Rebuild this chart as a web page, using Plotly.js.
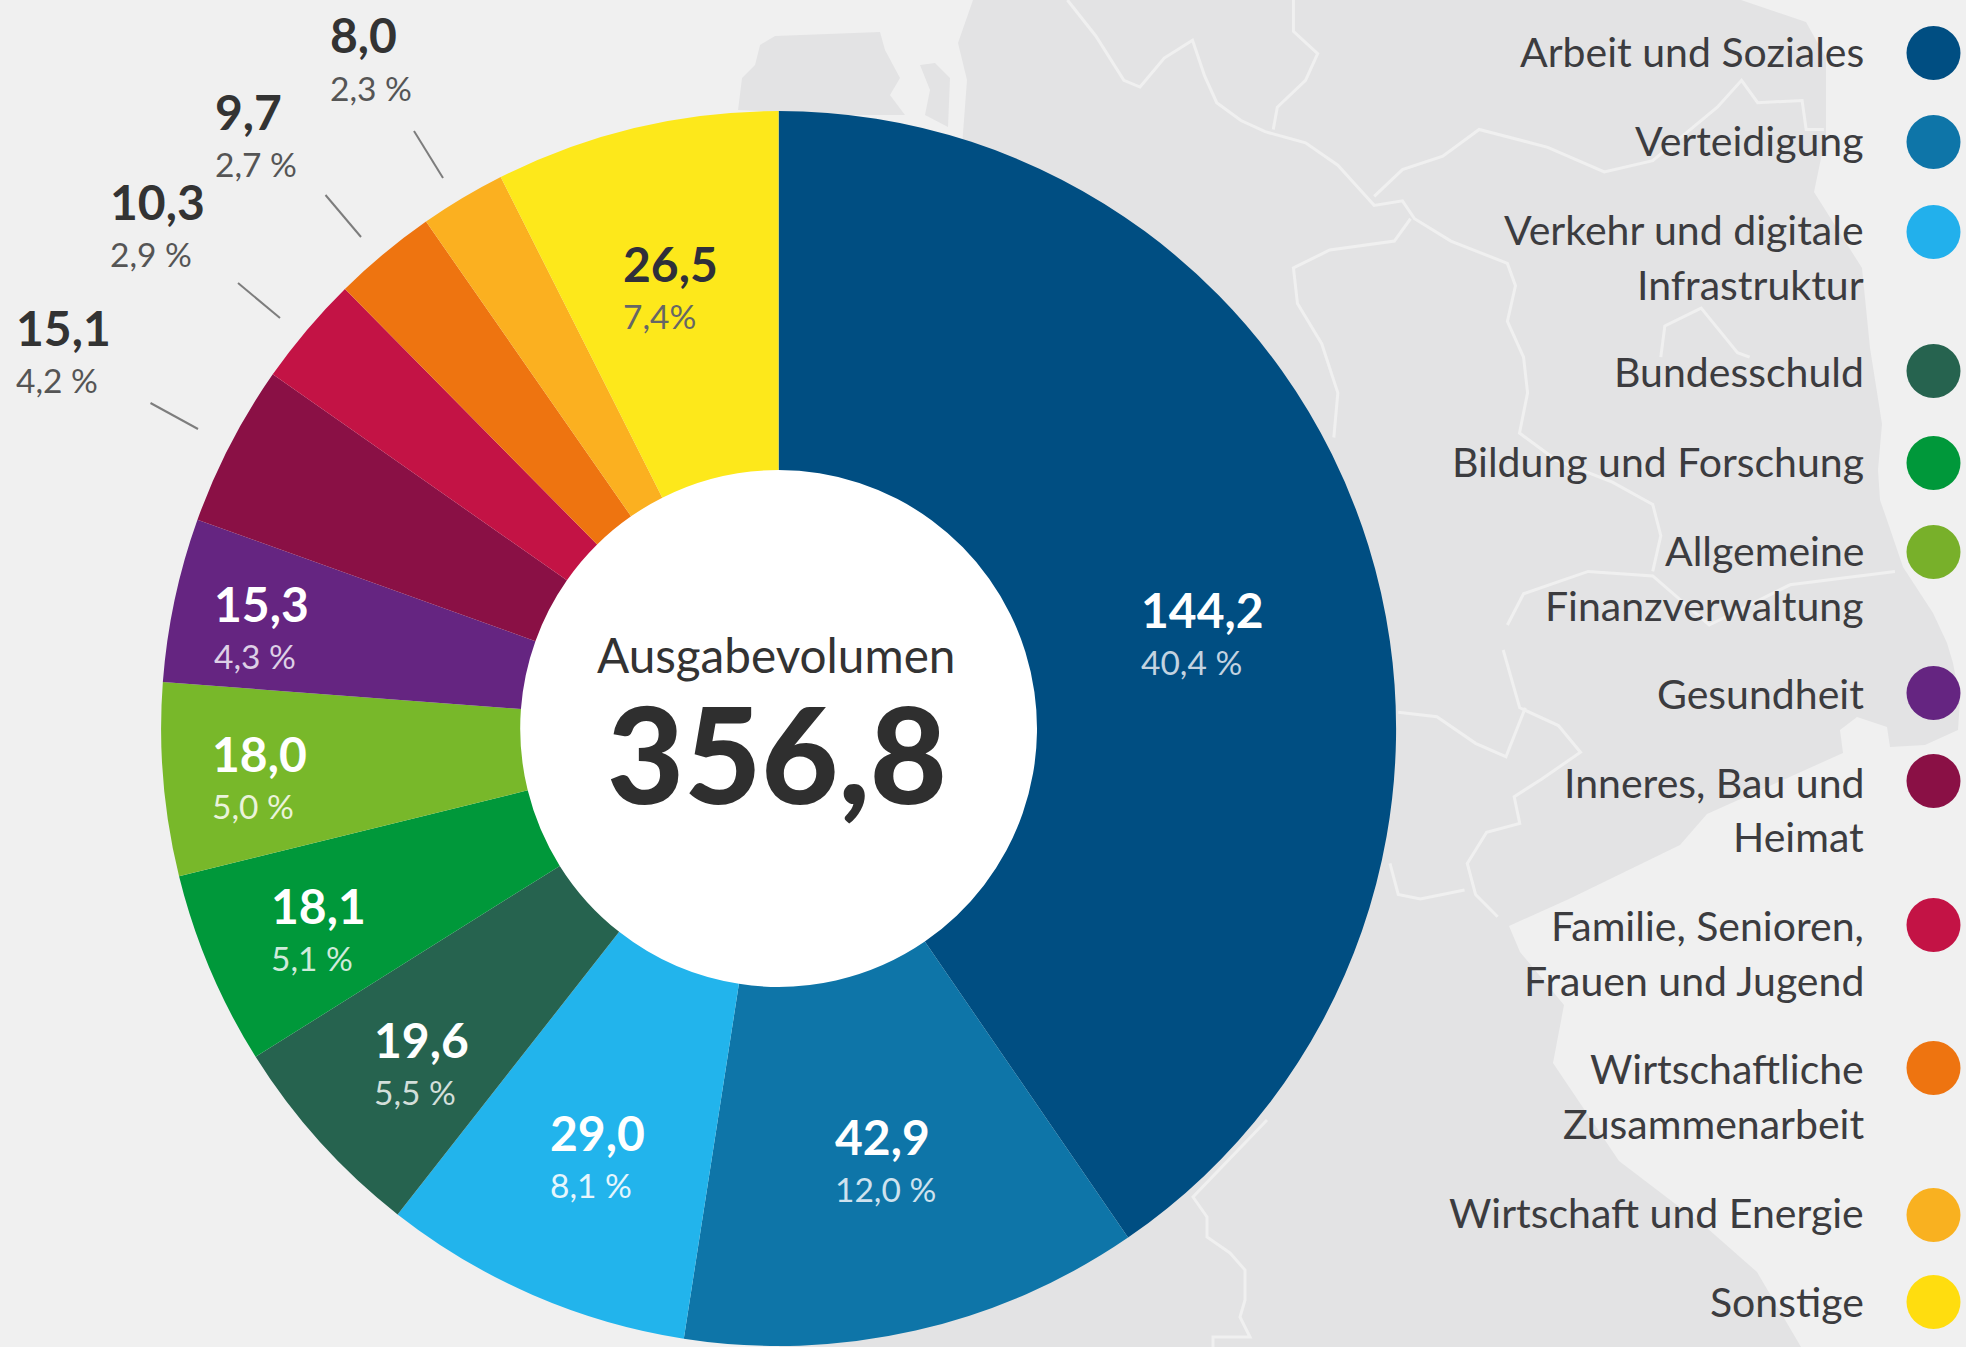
<!DOCTYPE html>
<html><head><meta charset="utf-8">
<script src="https://cdn.plot.ly/plotly-3.0.1.min.js"></script>
<style>html,body{margin:0;padding:0;background:#f0f0f0}#c{width:1966px;height:1347px}</style>
</head><body><div id="c"></div>
<script>
// ---- data
const categories = ["Arbeit und Soziales","Verteidigung","Verkehr und digitale<br>Infrastruktur","Bundesschuld","Bildung und Forschung","Allgemeine<br>Finanzverwaltung","Gesundheit","Inneres, Bau und<br>Heimat","Familie, Senioren,<br>Frauen und Jugend","Wirtschaftliche<br>Zusammenarbeit","Wirtschaft und Energie","Sonstige"];
const values = [144.2,42.9,29.0,19.6,18.1,18.0,15.3,15.1,10.3,9.7,8.0,26.5];
const valueLabels = ["144,2","42,9","29,0","19,6","18,1","18,0","15,3","15,1","10,3","9,7","8,0","26,5"];
const percentLabels = ["40,4 %","12,0 %","8,1 %","5,5 %","5,1 %","5,0 %","4,3 %","4,2 %","2,9 %","2,7 %","2,3 %","7,4%"];
const centerTitle = "Ausgabevolumen";
const centerValue = "356,8";
// ---- styles & layout
const colors = ["#004E82","#0E75A8","#22B4EC","#26634F","#00983A","#78B82A","#652581","#8A1045","#C31345","#EE7410","#FBB020","#FDE81B"];
const legendColors = ["#004E82","#0E75A8","#22B0EC","#26634F","#00983A","#78B02A","#652581","#8A1045","#C31345","#EE7410","#F9B120","#FFDD0F"];
const legendY = [53,142,232,371,463,552,693,781,925,1068,1215,1302];
const legendTextY = [[51],[140.5],[229.5,284.6],[371],[461.5],[550.5,605.6],[693],[782,836],[925,980.5],[1068,1123],[1212],[1301.5]];
const labelX = [1140,834,549,373,270,211,213,15,109,214,329,622];
const labelValueY = [609,1136,1132,1039,905,753,603,327,201,111,34,263];
const labelPctY = [662,1189,1185,1092,958,806,656,380,254,164,88,316];
const valueColors = ["#fff","#fff","#fff","#fff","#fff","#fff","#fff","#333","#333","#333","#333","#2f2f3a"];
const pctColors = ["#c3d3e0","#cfe2ee","#e6f6fd","#d3dfda","#cfeadb","#eaf3da","#ddd0e6","#555","#555","#555","#555","#666"];
const leaders = [[150.5,403,198,429],[238,283,280,318],[325.5,195,361,237],[414,131,443,178]];
const W=1966,H=1347,cx=778.6,cy=728.5,R=617.5,r=258.4;
const FONT="Lato";
const z5=p=>[700+p[0]*1266/1568,p[1]*700/1568], z6=p=>[1100+p[0]*866/1568,650+p[1]*697/1568];
const land=[[973,0],[958,43],[967,80],[963,133],[940,400],[900,1100],[779,1347],[1801,1347],[1757,1272],[1707,1228],[1619,1161],[1553,1063],[1564,1005],[1520,952],[1509,926],[1569,899],[1680,845],[1707,814],[1843,753],[1840,730],[1857,717],[1887,727],[1890,747],[1925,745],[1958,730],[1960,700],[1953,663],[1947,643],[1933,613],[1903,567],[1887,520],[1880,500],[1878,470],[1882,424],[1870,348],[1862,268],[1814,192],[1826,134],[1826,58],[1806,22],[1741,0]];
const isle1=[[738,110],[742,78],[755,65],[760,45],[775,36],[880,32],[885,50],[900,78],[890,95],[905,115],[850,115]];
const isle2=[[920,65],[935,63],[950,78],[948,127],[925,115],[930,90]];
const borders=[
 [[455,0],[490,80],[525,180],[545,195],[575,130],[610,90],[625,170],[640,230],[670,270],[700,295],[750,320],[790,370],[815,420],[835,460],[870,450],[885,490],[930,540],[1000,590],[1010,640],[1000,720],[1020,800],[1025,880],[1015,970],[1060,1030],[1130,1080],[1180,1130],[1190,1200],[1180,1280]].map(z5),
 [[735,0],[735,70],[765,120],[750,180],[715,240],[710,290]].map(z5),
 [[835,440],[870,380],[920,350],[965,290],[1050,330],[1120,385],[1180,360],[1260,240],[1290,180],[1310,230],[1365,225],[1370,290],[1392,290]].map(z5),
 [[880,490],[860,540],[780,560],[735,600],[740,680],[770,770],[790,880],[785,980]].map(z5),
 [[1190,800],[1195,730],[1240,690],[1285,790],[1300,800]].map(z5),
 [[1000,1400],[1020,1330],[1100,1280],[1180,1290],[1250,1400],[1350,1310],[1480,1280]].map(z5),
 [[730,0],[760,130],[830,170],[870,230],[800,290],[750,330],[760,390],[700,410],[665,480],[680,550],[720,600]].map(z6),
 [[540,140],[610,150],[680,210],[735,240],[770,130]].map(z6),
 [[525,480],[540,550],[580,560],[660,540]].map(z6),
 [[1267,1120],[1193,1197],[1207,1217],[1207,1237],[1230,1253],[1245,1270],[1245,1300],[1240,1317],[1250,1337],[1213,1337],[1213,1347]]
];
const pathOf=(pts,close)=>"M"+pts.map(p=>p[0]+","+p[1]).join("L")+(close?"Z":"");
const shapes=[];
[land,isle1,isle2].forEach(p=>shapes.push({type:"path",xref:"x",yref:"y",layer:"below",path:pathOf(p,true),fillcolor:"#e3e3e4",line:{width:0}}));
borders.forEach(p=>shapes.push({type:"path",xref:"x",yref:"y",layer:"below",path:pathOf(p,false),line:{color:"#f0f0f0",width:3}}));
shapes.push({type:"circle",xref:"x",yref:"y",layer:"below",x0:cx-r-2,x1:cx+r+2,y0:cy-r-2,y1:cy+r+2,fillcolor:"#fff",line:{width:0}});
leaders.forEach(l=>shapes.push({type:"line",xref:"x",yref:"y",x0:l[0],y0:l[1],x1:l[2],y1:l[3],line:{color:"#7d7d7d",width:2}}));

const ann=[];
const T=(x,y,text,size,color,anchor,weight)=>ann.push({xref:"x",yref:"y",x,y,text,showarrow:false,xanchor:anchor,yanchor:"middle",align:anchor,borderpad:0,font:{family:FONT,size,color,weight:weight||400}});
values.forEach((v,i)=>{
  T(labelX[i],labelValueY[i],valueLabels[i],48,valueColors[i],"left",700);
  T(labelX[i],labelPctY[i],percentLabels[i],33.5,pctColors[i],"left");
  categories[i].split("<br>").forEach((line,k)=>T(1865,legendTextY[i][k],line,41,"#3c3c3f","right"));
});
T(cx-3,654,centerTitle,47.7,"#333","center");
T(cx-2,752,centerValue,133,"#2f2f2f","center",900);

const pie={type:"pie",labels:categories,values,sort:false,direction:"clockwise",rotation:0,hole:r/R,textinfo:"none",hoverinfo:"label+value",showlegend:false,
  marker:{colors,line:{width:0}},
  domain:{x:[(cx-R)/W,(cx+R)/W],y:[1-(cy+R)/H,1-(cy-R)/H]}};
const legendMarks={type:"scatter",mode:"markers",x:categories.map(()=>1933.5),y:legendY,marker:{size:54,color:legendColors,line:{width:0}},hoverinfo:"text",text:categories,showlegend:false};
Plotly.newPlot("c",[legendMarks,pie],{
  width:W,height:H,margin:{l:0,r:0,t:0,b:0,pad:0},paper_bgcolor:"#f0f0f0",plot_bgcolor:"rgba(0,0,0,0)",showlegend:false,
  xaxis:{range:[0,W],visible:false,fixedrange:true},yaxis:{range:[H,0],visible:false,fixedrange:true},
  shapes,annotations:ann
},{staticPlot:true});
</script></body></html>
